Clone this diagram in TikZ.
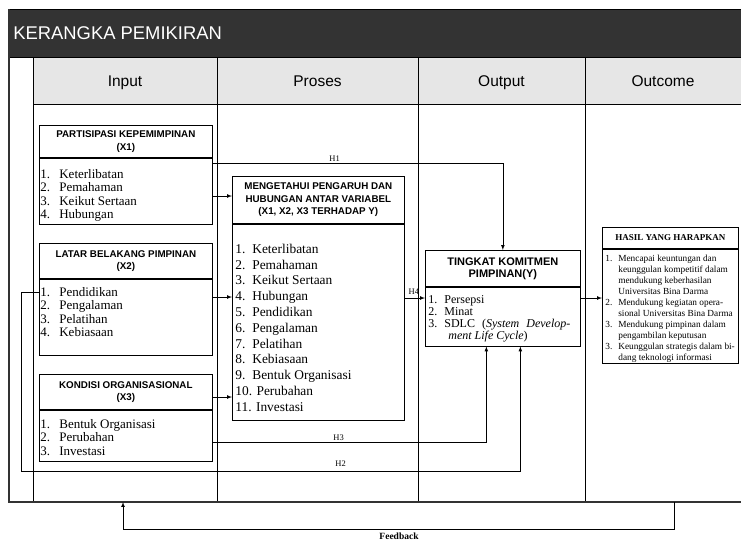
\documentclass[tikz,border=0pt]{standalone}
\usepackage{fontspec}
\setmainfont{Liberation Serif}
\setsansfont{Liberation Sans}
\usetikzlibrary{arrows,positioning}

\definecolor{barfill}{HTML}{333333}
\definecolor{headfill}{HTML}{E6E6E6}

\begin{document}
\begin{tikzpicture}[x=1pt, y=-1pt, line width=0.7pt,
    boxhead/.style={draw, anchor=north west, inner sep=1pt, align=center, font=\sffamily\bfseries\fontsize{9.8}{12.5}\selectfont},
    boxbody/.style={draw, anchor=north west, inner sep=0pt},
    itemtxt/.style={anchor=north west, inner sep=0pt, align=left, font=\fontsize{13}{13.3}\selectfont},
    lane/.style={anchor=base, font=\sffamily\fontsize{15.5}{18}\selectfont},
    hlbl/.style={font=\fontsize{8.5}{10}\selectfont, inner sep=1.5pt},
    arr/.style={-latex}]
  \useasboundingbox (0,0) rectangle (741,542);
  \filldraw[fill=barfill, draw=black] (9,9) rectangle (741,57);
  \node[anchor=west, inner sep=1pt, text=white, font=\sffamily\fontsize{18.4}{20}\selectfont] (judul) at (12,33) {KERANGKA PEMIKIRAN};
  \filldraw[fill=headfill, draw=black] (33,57) rectangle (741,104);
  \foreach \x in {33,217,418,585}
    \draw (\x,57) -- (\x,502);
  \draw[line width=1.4pt, black!80] (9,9) -- (9,502) -- (741,502);
  \node[lane] (inp) at (125,86.5) {Input};
  \node[lane] (pro) at (317.5,86.5) {Proses};
  \node[lane] (outp) at (501.5,86.5) {Output};
  \node[lane] (outc) at (663,86.5) {Outcome};

  \node[boxhead, minimum width=173pt, minimum height=32pt] (x1h) at (39,125) {PARTISIPASI KEPEMIMPINAN\\(X1)};
  \node[boxbody, minimum width=173pt, minimum height=66pt] (x1b) at (x1h.south west) {};
  \node[itemtxt] (x1l) at ([xshift=1pt,yshift=-11.5pt]x1b.north west)
    {\makebox[19pt][l]{1.}Keterlibatan\\\makebox[19pt][l]{2.}Pemahaman\\\makebox[19pt][l]{3.}Keikut Sertaan\\\makebox[19pt][l]{4.}Hubungan};

  \node[boxhead, minimum width=173pt, minimum height=35pt] (x2h) at (39,243) {LATAR BELAKANG PIMPINAN\\(X2)};
  \node[boxbody, minimum width=173pt, minimum height=76pt] (x2b) at (x2h.south west) {};
  \node[itemtxt] (x2l) at ([xshift=1pt,yshift=-8.5pt]x2b.north west)
    {\makebox[19pt][l]{1.}Pendidikan\\\makebox[19pt][l]{2.}Pengalaman\\\makebox[19pt][l]{3.}Pelatihan\\\makebox[19pt][l]{4.}Kebiasaan};

  \node[boxhead, minimum width=173pt, minimum height=35pt] (x3h) at (39,374) {KONDISI ORGANISASIONAL\\(X3)};
  \node[boxbody, minimum width=173pt, minimum height=51pt] (x3b) at (x3h.south west) {};
  \node[itemtxt] (x3l) at ([xshift=1pt,yshift=-9.5pt]x3b.north west)
    {\makebox[19pt][l]{1.}Bentuk Organisasi\\\makebox[19pt][l]{2.}Perubahan\\\makebox[19pt][l]{3.}Investasi};

  \node[boxhead, minimum width=172pt, minimum height=47pt] (ph) at (232,176) {MENGETAHUI PENGARUH DAN\\HUBUNGAN ANTAR VARIABEL\\(X1, X2, X3 TERHADAP Y)};
  \node[boxbody, minimum width=172pt, minimum height=196pt] (pb) at (ph.south west) {};
  \node[itemtxt, font=\fontsize{13.4}{15.8}\selectfont] (pl) at ([xshift=3pt,yshift=-20pt]pb.north west)
    {\makebox[17pt][l]{1.}Keterlibatan\\\makebox[17pt][l]{2.}Pemahaman\\\makebox[17pt][l]{3.}Keikut Sertaan\\\makebox[17pt][l]{4.}Hubungan\\
     \makebox[17pt][l]{5.}Pendidikan\\\makebox[17pt][l]{6.}Pengalaman\\\makebox[17pt][l]{7.}Pelatihan\\\makebox[17pt][l]{8.}Kebiasaan\\
     \makebox[17pt][l]{9.}Bentuk Organisasi\\10. Perubahan\\11. Investasi};

  \node[boxhead, minimum width=155pt, minimum height=36pt, font=\sffamily\bfseries\fontsize{11}{12}\selectfont] (yh) at (425,250) {TINGKAT KOMITMEN\\PIMPINAN(Y)};
  \node[boxbody, minimum width=155pt, minimum height=59pt] (yb) at (yh.south west) {};
  \node[itemtxt, font=\fontsize{12}{12.3}\selectfont] (yl) at ([xshift=3pt,yshift=-8pt]yb.north west)
    {\makebox[16pt][l]{1.}Persepsi\\\makebox[16pt][l]{2.}Minat\\\makebox[16pt][l]{3.}\makebox[126pt][s]{SDLC (\textit{System} \textit{Develop-}}\\\hspace*{20pt}\textit{ment Life Cycle})};

  \node[boxhead, minimum width=136pt, minimum height=21pt, font=\bfseries\fontsize{9}{10}\selectfont] (oh) at (602,227) {HASIL YANG HARAPKAN};
  \node[boxbody, minimum width=136pt, minimum height=114pt] (ob) at (oh.south west) {};
  \node[itemtxt, font=\fontsize{9.3}{11}\selectfont] (ol) at ([xshift=3pt,yshift=-6pt]ob.north west)
    {\makebox[13pt][l]{1.}Mencapai keuntungan dan\\\hspace*{13pt}keunggulan kompetitif dalam\\\hspace*{13pt}mendukung keberhasilan\\\hspace*{13pt}Universitas Bina Darma\\
     \makebox[13pt][l]{2.}Mendukung kegiatan opera-\\\hspace*{13pt}sional Universitas Bina Darma\\
     \makebox[13pt][l]{3.}Mendukung pimpinan dalam\\\hspace*{13pt}pengambilan keputusan\\
     \makebox[13pt][l]{3.}Keunggulan strategis dalam bi-\\\hspace*{13pt}dang teknologi informasi};

  \coordinate (lvA) at (0,196);
  \coordinate (lvB) at (0,297);
  \coordinate (lvC) at (0,397);
  \coordinate (lvH1) at (0,163);
  \coordinate (lvD) at (0,298);
  \coordinate (lvE) at (0,442);
  \coordinate (lvF) at (0,292);
  \coordinate (lvG) at (21,471);
  \draw[arr] (x1b.east |- lvA) -- (ph.west |- lvA);
  \draw[arr] (x2b.east |- lvB) -- (pb.west |- lvB);
  \draw[arr] (x3h.east |- lvC) -- (pb.west |- lvC);
  \draw[arr] (x1b.east |- lvH1) -| (yh.north) node[hlbl, pos=0.21, above] {H1};
  \draw[arr] (pb.east |- lvD) -- (yb.west |- lvD) node[hlbl, pos=0.45, above=2pt] {H4};
  \draw[arr] (yb.east |- lvD) -- (ob.west |- lvD);
  \draw[arr] (x3b.east |- lvE) -| ([xshift=-16.5pt]yb.south) node[hlbl, pos=0.23, above] {H3};
  \draw[arr] (x2b.west |- lvF) -| (lvG) -| ([xshift=17.5pt]yb.south) node[hlbl, pos=0.32, above=3pt] {H2};

  \coordinate (fbR) at (674,502);
  \coordinate (fbL) at (123,502);
  \draw[arr] (fbR) -- ++(0,27) -| (fbL);
  \node[inner sep=0.5pt, font=\bfseries\fontsize{9.5}{10}\selectfont] (fb) at (399,536) {Feedback};
\end{tikzpicture}
\end{document}
